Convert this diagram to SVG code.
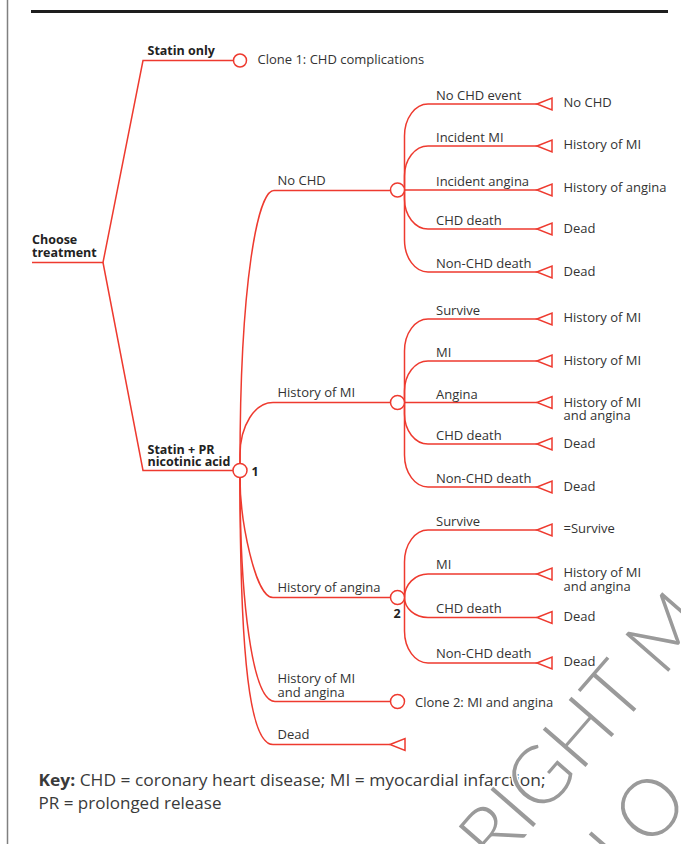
<svg xmlns="http://www.w3.org/2000/svg" xmlns:xlink="http://www.w3.org/1999/xlink" width="681" height="844" viewBox="0 0 681 844">
<style>
.ln{fill:none;stroke:#ee3a2f;stroke-width:1.5}
.nd{fill:#fff;stroke:#ee3a2f;stroke-width:1.5}
.t{font-family:"Open Sans","Noto Sans","Liberation Sans",sans-serif;font-size:13px;fill:#333}
.b{font-weight:bold;font-size:12.5px;fill:#222}
.k{font-size:16.5px;fill:#3a3a3a}
.wm{font-family:Lato,Roboto,"Liberation Sans",sans-serif;font-weight:300;font-size:80px;fill:#9a9a9a;stroke:#fff;stroke-width:3;paint-order:stroke}
</style>
<defs>
<path id="tri" d="M0,0 L15,-6 L15,6 Z" fill="#fff" stroke="#ee3a2f" stroke-width="1.5"/>
</defs>
<rect width="681" height="844" fill="#fff"/>
<g id="frame">
<line x1="7.5" y1="0" x2="7.5" y2="844" stroke="#808080" stroke-width="1.5"/>
<line x1="31" y1="11.5" x2="668" y2="11.5" stroke="#1e1e1e" stroke-width="3"/>
</g>
<g id="connectors" class="ln">
<path d="M32,262.5 H103 L143,60.5 H233.5"/>
<path d="M103,262.5 L143,470.5 H233"/>
<path d="M240,464 C240,280 258,190.5 274,190.5 H390.5"/>
<path d="M240,464 L240,455 C240,425.7 254.8,402.5 273,402.5 H390.5"/>
<path d="M240,477.5 C240,520 255,597.5 273,597.5 H390.5"/>
<path d="M240,477.5 C240,600 252,701.5 275,701.5 H390.5"/>
<path d="M240,477.5 C240,660 250,744.5 273,744.5 H390"/>
<path d="M404.5,190 V136 C404.5,118.3 415,104 428,104 H537"/>
<path d="M404.5,190 V176 C404.5,159.4 415,146 428,146 H537"/>
<path d="M404.5,190 H537"/>
<path d="M404.5,190 V199 C404.5,215.6 415,229 428,229 H537"/>
<path d="M404.5,190 V240 C404.5,257.7 415,272 428,272 H537"/>
<path d="M404.5,402.5 V351 C404.5,333.3 415,319 428,319 H537"/>
<path d="M404.5,402.5 V391 C404.5,374.4 415,361 428,361 H537"/>
<path d="M404.5,402.5 H537"/>
<path d="M404.5,402.5 V414 C404.5,430.6 415,444 428,444 H537"/>
<path d="M404.5,402.5 V455 C404.5,472.7 415,487 428,487 H537"/>
<path d="M404.5,597.5 V562 C404.5,544.3 415,530 428,530 H537"/>
<path d="M404.5,597.5 C404.5,584.5 415,574 428,574 H537"/>
<path d="M404.5,597.5 C404.5,608.5 415,617.5 428,617.5 H537"/>
<path d="M404.5,597.5 V631 C404.5,648.7 415,663 428,663 H537"/>
</g>
<g id="branch-labels" class="t">
<text x="147.5" y="55" class="b">Statin only</text>
<text x="147.5" y="453.5" class="b">Statin + PR</text>
<text x="147.5" y="466" class="b">nicotinic acid</text>
<text x="277.5" y="185">No CHD</text>
<text x="277.5" y="397">History of MI</text>
<text x="277.5" y="592">History of angina</text>
<text x="277.5" y="683">History of MI</text>
<text x="277.5" y="696.5">and angina</text>
<text x="277.5" y="739">Dead</text>
<text x="436" y="100">No CHD event</text>
<text x="436" y="142">Incident MI</text>
<text x="436" y="185.5">Incident angina</text>
<text x="436" y="225">CHD death</text>
<text x="436" y="268">Non-CHD death</text>
<text x="436" y="314.5">Survive</text>
<text x="436" y="356.5">MI</text>
<text x="436" y="398.5">Angina</text>
<text x="436" y="440">CHD death</text>
<text x="436" y="482.5">Non-CHD death</text>
<text x="436" y="525.5">Survive</text>
<text x="436" y="569">MI</text>
<text x="436" y="613">CHD death</text>
<text x="436" y="658">Non-CHD death</text>
</g>
<g id="choose" class="t"><text x="32" y="244" class="b">Choose</text><text x="32" y="257" class="b">treatment</text></g>
<g id="clone1"><circle cx="240" cy="60.5" r="6.5" class="nd"/><text x="257.5" y="64" class="t">Clone 1: CHD complications</text></g>
<g id="node1"><circle cx="240" cy="470.5" r="7" class="nd"/><text x="251.5" y="476" class="t b">1</text></g>
<g id="nodeA"><circle cx="397.5" cy="190" r="7" class="nd"/></g>
<g id="nodeB"><circle cx="397.5" cy="402.5" r="7" class="nd"/></g>
<g id="nodeC"><circle cx="397.5" cy="597.5" r="7" class="nd"/><text x="393.5" y="618" class="t b">2</text></g>
<g id="clone2"><circle cx="397.5" cy="701.5" r="7" class="nd"/><text x="415" y="706.5" class="t">Clone 2: MI and angina</text></g>
<g id="term-dead"><use xlink:href="#tri" x="390" y="744.5"/></g>
<g id="termA1"><use xlink:href="#tri" x="537" y="104"/><text x="563.5" y="107" class="t">No CHD</text></g>
<g id="termA2"><use xlink:href="#tri" x="537" y="146"/><text x="563.5" y="149" class="t">History of MI</text></g>
<g id="termA3"><use xlink:href="#tri" x="537" y="190"/><text x="563.5" y="192" class="t">History of angina</text></g>
<g id="termA4"><use xlink:href="#tri" x="537" y="229"/><text x="563.5" y="233" class="t">Dead</text></g>
<g id="termA5"><use xlink:href="#tri" x="537" y="272"/><text x="563.5" y="276" class="t">Dead</text></g>
<g id="termB1"><use xlink:href="#tri" x="537" y="319"/><text x="563.5" y="322" class="t">History of MI</text></g>
<g id="termB2"><use xlink:href="#tri" x="537" y="361"/><text x="563.5" y="364.5" class="t">History of MI</text></g>
<g id="termB3"><use xlink:href="#tri" x="537" y="402.5"/><text x="563.5" y="406.5" class="t">History of MI</text><text x="563.5" y="420" class="t">and angina</text></g>
<g id="termB4"><use xlink:href="#tri" x="537" y="444"/><text x="563.5" y="448" class="t">Dead</text></g>
<g id="termB5"><use xlink:href="#tri" x="537" y="487"/><text x="563.5" y="490.5" class="t">Dead</text></g>
<g id="termC1"><use xlink:href="#tri" x="537" y="530"/><text x="563.5" y="533" class="t">=Survive</text></g>
<g id="termC2"><use xlink:href="#tri" x="537" y="574"/><text x="563.5" y="577" class="t">History of MI</text><text x="563.5" y="590.5" class="t">and angina</text></g>
<g id="termC3"><use xlink:href="#tri" x="537" y="617.5"/><text x="563.5" y="621" class="t">Dead</text></g>
<g id="termC4"><use xlink:href="#tri" x="537" y="663"/><text x="563.5" y="666" class="t">Dead</text></g>
<g id="key" class="t k">
<text x="38.5" y="786" textLength="507" lengthAdjust="spacingAndGlyphs"><tspan font-weight="bold">Key:</tspan> CHD = coronary heart disease; MI = myocardial infarction;</text>
<text x="38.5" y="809" textLength="183" lengthAdjust="spacingAndGlyphs">PR = prolonged release</text>
</g>
<g id="watermark" class="wm">
<text transform="translate(496,870) rotate(-49)">RIGHT M</text>
<text transform="translate(626,878) rotate(-49)">LO</text>
</g>
</svg>
